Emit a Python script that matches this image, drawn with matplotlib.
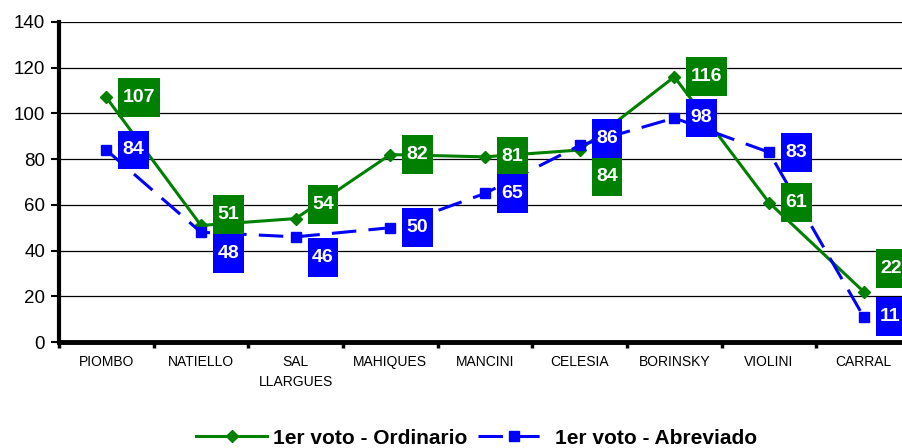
import matplotlib
matplotlib.use("Agg")
import matplotlib.pyplot as plt
from matplotlib import font_manager
from matplotlib.path import Path

# data
candidatos = ["PIOMBO", "NATIELLO", "SAL\nLLARGUES", "MAHIQUES", "MANCINI",
              "CELESIA", "BORINSKY", "VIOLINI", "CARRAL"]
ordinario = [107, 51, 54, 82, 81, 84, 116, 61, 22]
abreviado = [84, 48, 46, 50, 65, 86, 98, 83, 11]
serie_ord = "1er voto - Ordinario"
serie_abr = "1er voto - Abreviado"
y_ticks = [0, 20, 40, 60, 80, 100, 120, 140]

# vertical nudges of the data labels (pixels), as Excel placed them
nudge_ord = [0, 11, 14, 0, 0, -27, 0, 0, 23]
nudge_abr = [0, -21, -21, 0, 0, 7, 0, 0, 0]

VERDE = "#008000"
AZUL = "#0000FF"

names = {f.name for f in font_manager.fontManager.ttflist}
font = "Liberation Sans" if "Liberation Sans" in names else "DejaVu Sans"
plt.rcParams["font.family"] = [font, "DejaVu Sans"]


def label_box(x0, y0, width, height, mutation_size):
    # box with small side padding and fixed height around the text
    px = 0.23 * mutation_size
    hy = 1.0 * mutation_size
    cy = y0 + height / 2
    l, r = x0 - px, x0 + width + px
    b, t = cy - hy, cy + hy
    return Path([(l, b), (r, b), (r, t), (l, t), (l, b)],
                [Path.MOVETO, Path.LINETO, Path.LINETO, Path.LINETO, Path.CLOSEPOLY])


fig = plt.figure(figsize=(9.03, 4.48), dpi=100)
ax = fig.add_axes([0.0653, 0.2366, 0.9436, 0.7143])

x = list(range(len(candidatos)))
ax.plot(x, ordinario, color=VERDE, lw=2.2, marker="D", ms=6.5, label=serie_ord, zorder=3)
ax.plot(x, abreviado, color=AZUL, lw=2.2, marker="s", ms=6.5, dashes=(8, 4),
        label=serie_abr, zorder=4)

for vals, nudges, col in [(ordinario, nudge_ord, VERDE), (abreviado, nudge_abr, AZUL)]:
    for xi, v, dy in zip(x, vals, nudges):
        ax.annotate(str(v), (xi, v), xytext=(16.5, dy), textcoords="offset pixels",
                    ha="left", va="center", color="white", fontsize=14,
                    fontweight="bold", zorder=5, annotation_clip=False,
                    bbox=dict(boxstyle=label_box, fc=col, ec="none"))

ax.set_xlim(-0.5, len(candidatos) - 0.5)
ax.set_ylim(0, 140)
ax.set_yticks(y_ticks)
ax.tick_params(axis="y", labelsize=13.5, length=6, width=1.5, pad=4)
ax.yaxis.grid(True, color="black", lw=0.9)
ax.set_axisbelow(True)

ax.set_xticks(x)
ax.set_xticklabels(candidatos, fontsize=10, linespacing=1.6)
ax.tick_params(axis="x", which="major", length=0, pad=9)
ax.set_xticks([i - 0.5 for i in x], minor=True)
ax.tick_params(axis="x", which="minor", length=4, width=2.5)

for s in ["top", "right"]:
    ax.spines[s].set_visible(False)
ax.spines["left"].set_linewidth(3)
ax.spines["bottom"].set_linewidth(3.5)

fig.legend(loc="center", bbox_to_anchor=(0.528, 0.022), ncol=2, frameon=False,
           numpoints=1, handlelength=3.4, handletextpad=0.3, columnspacing=0.5,
           prop=dict(size=15, weight="bold"))

fig.savefig("out.png", dpi=100)
